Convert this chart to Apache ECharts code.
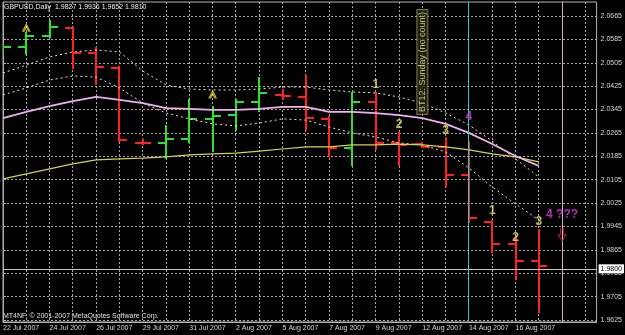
<!DOCTYPE html>
<html>
<head>
<meta charset="utf-8">
<title>GBPUSD Daily</title>
<script src="https://cdn.jsdelivr.net/npm/echarts@6.0.0/dist/echarts.min.js"></script>
<style>
  html, body { margin: 0; padding: 0; background: #000; }
  #main { width: 625px; height: 335px; }
</style>
</head>
<body>
<div id="main"></div>
<script>
const symbolName = 'GBPUSD'
const period = 'Daily'

// one entry per daily bar (Sunday bars included)
const dates = ['22 Jul 2007', '23 Jul 2007', '24 Jul 2007', '25 Jul 2007', '26 Jul 2007', '27 Jul 2007',
  '29 Jul 2007', '30 Jul 2007', '31 Jul 2007', '1 Aug 2007', '2 Aug 2007', '3 Aug 2007',
  '5 Aug 2007', '6 Aug 2007', '7 Aug 2007', '8 Aug 2007', '9 Aug 2007', '10 Aug 2007',
  '12 Aug 2007', '13 Aug 2007', '14 Aug 2007', '15 Aug 2007', '16 Aug 2007', '17 Aug 2007']
const opens = [2.0550, 2.0559, 2.0597, 2.0624, 2.0538, 2.0487, 2.0231, 2.0231, 2.0244, 2.0313, 2.0326, 2.0371,
  2.0395, 2.0388, 2.0313, 2.0214, 2.0371, 2.0231, 2.0227, 2.0217, 2.0121, 1.9960, 1.9885, 1.9827]
const highs = [2.0566, 2.0607, 2.0651, 2.0626, 2.0559, 2.0491, 2.0241, 2.0292, 2.0378, 2.0354, 2.0378, 2.0456,
  2.0412, 2.0463, 2.0320, 2.0402, 2.0402, 2.0265, 2.0231, 2.0251, 2.0234, 1.9967, 1.9909, 1.9936]
const lows = [2.0538, 2.0532, 2.0590, 2.0487, 2.0429, 2.0234, 2.0224, 2.0179, 2.0231, 2.0200, 2.0275, 2.0337,
  2.0378, 2.0275, 2.0183, 2.0155, 2.0207, 2.0152, 2.0214, 2.0080, 1.9960, 1.9855, 1.9762, 1.9652]
const closes = [2.0559, 2.0597, 2.0627, 2.0538, 2.0491, 2.0241, 2.0229, 2.0244, 2.0313, 2.0323, 2.0371, 2.0402,
  2.0393, 2.0316, 2.0214, 2.0371, 2.0231, 2.0224, 2.0217, 2.0121, 1.9974, 1.9885, 1.9827, 1.9810]

// indicators
const maFast = [2.0316, 2.0337, 2.0357, 2.0374, 2.0388, 2.0378, 2.0367, 2.0350, 2.0347, 2.0344, 2.0344, 2.0347,
  2.0354, 2.0354, 2.0337, 2.0337, 2.0333, 2.0326, 2.0316, 2.0296, 2.0265, 2.0227, 2.0186, 2.0152]
const maSlow = [2.0108, 2.0125, 2.0142, 2.0159, 2.0173, 2.0176, 2.0179, 2.0183, 2.0190, 2.0193, 2.0196, 2.0203,
  2.0210, 2.0217, 2.0217, 2.0224, 2.0224, 2.0227, 2.0224, 2.0217, 2.0207, 2.0193, 2.0183, 2.0166]
const bandUpper = [2.0470, 2.0497, 2.0525, 2.0542, 2.0549, 2.0542, 2.0477, 2.0429, 2.0415, 2.0412, 2.0412, 2.0415,
  2.0422, 2.0422, 2.0412, 2.0405, 2.0402, 2.0388, 2.0367, 2.0333, 2.0292, 2.0237, 2.0176, 2.0114]
const bandLower = [2.0395, 2.0419, 2.0446, 2.0460, 2.0456, 2.0419, 2.0367, 2.0333, 2.0313, 2.0296, 2.0289, 2.0299,
  2.0313, 2.0309, 2.0285, 2.0265, 2.0251, 2.0231, 2.0224, 2.0200, 2.0145, 2.0080, 2.0022, 1.9967]

// price scale labels
const priceTicks = [1.9625, 1.9705, 1.9785, 1.9865, 1.9945, 2.0025, 2.0105, 2.0185, 2.0265, 2.0345,
  2.0425, 2.0505, 2.0585, 2.0665]

// objects drawn on the chart
const arrowBars = [1, 9]
const arrowPrices = [2.0627, 2.0398]
const waveBars = [16, 17, 19, 21, 22, 23]
const wavePrices = [2.0429, 2.0292, 2.0272, 1.9999, 1.9906, 1.9960]
const waveTexts = ['1', '2', '3', '1', '2', '3']
const wave4Bars = [20, 24]
const wave4Prices = [2.0320, 1.9984]
const wave4Texts = ['4', '4 ???']
const noteBar = 18
const notePrice = 2.0508
const noteText = 'BT12: Sunday (no count)'
const downArrowBar = 24
const downArrowPrice = 1.9916
const vlineBars = [20, 24]

const FONT = 'Liberation Sans'
const upColor = '#30e030'
const downColor = '#ff2222'
const gridColor = '#a8a8a8'
const vlineColors = ['#30c8c8', '#dca6cf']
const xMax = 25.48
const yMin = 1.9618
const yMax = 2.0713
const lastClose = closes[closes.length - 1]

const chart = echarts.init(document.getElementById('main'))

const ohlc = dates.map((d, i) => [i, opens[i], highs[i], lows[i], closes[i]])
const xy = arr => arr.map((v, i) => [i, v])
// one bar slot per day across the visible range, also the future ones
const slots = Array.from({ length: Math.floor(xMax) + 1 }, (_, i) => [i, yMin])
// 1px lines sit on whole pixel columns
const px = v => Math.floor(v) + 0.5

chart.setOption({
  backgroundColor: '#000',
  animation: false,
  title: {
    text: `${symbolName},${period}  ${opens[23].toFixed(4)} ${highs[23].toFixed(4)} ${lows[23].toFixed(4)} ${lastClose.toFixed(4)}`,
    left: 4,
    top: 4,
    padding: 0,
    textStyle: { color: '#f0f0f0', fontSize: 7, fontWeight: 'normal', fontFamily: FONT }
  },
  graphic: [{
    type: 'text',
    left: 3,
    top: 313,
    style: { text: 'MT4NF, © 2001-2007 MetaQuotes Software Corp.', fill: '#e0e0e0', font: `7px "${FONT}"` }
  }],
  grid: { left: 2, top: 2, right: 28, bottom: 13, show: true, borderColor: '#b4b4b4', borderWidth: 1 },
  xAxis: {
    type: 'value',
    min: 0,
    max: xMax,
    interval: 1,
    axisLine: { lineStyle: { color: '#b4b4b4' } },
    axisTick: { show: false },
    splitLine: { show: false },
    axisLabel: {
      showMaxLabel: false,
      align: 'left',
      margin: 3,
      color: '#d8d8d8',
      fontSize: 7,
      fontFamily: FONT,
      formatter: v => (Number.isInteger(v) && v % 2 === 0 && v < dates.length) ? dates[v] : ''
    }
  },
  yAxis: {
    type: 'value',
    position: 'right',
    min: yMin,
    max: yMax,
    axisLine: { show: true, lineStyle: { color: '#b4b4b4' } },
    axisTick: { show: true, length: 3, customValues: priceTicks, lineStyle: { color: '#b4b4b4' } },
    axisLabel: {
      customValues: priceTicks,
      margin: 4,
      color: '#d8d8d8',
      fontSize: 7,
      fontFamily: FONT,
      formatter: v => v.toFixed(4)
    },
    splitLine: { show: true, lineStyle: { color: gridColor, type: [2, 2], width: 1 } }
  },
  series: [
    {
      // dotted vertical grid, one per bar slot
      type: 'custom',
      name: 'gridColumns',
      data: slots,
      silent: true,
      z: 1,
      encode: { x: 0, y: 1 },
      renderItem: (params, api) => {
        const cs = params.coordSys
        const x = px(api.coord([api.value(0), yMin])[0])
        return {
          type: 'line',
          shape: { x1: x, y1: cs.y, x2: x, y2: cs.y + cs.height },
          style: { stroke: gridColor, lineWidth: 1, lineDash: [2, 2] }
        }
      }
    },
    {
      type: 'custom',
      name: symbolName,
      data: ohlc,
      clip: true,
      silent: true,
      z: 2,
      encode: { x: 0, y: [1, 2, 3, 4] },
      renderItem: (params, api) => {
        const i = api.value(0)
        const x = Math.round(api.coord([i, api.value(1)])[0])
        const yO = Math.round(api.coord([i, api.value(1)])[1])
        const yH = Math.floor(api.coord([i, api.value(2)])[1])
        const yL = Math.ceil(api.coord([i, api.value(3)])[1])
        const yC = Math.round(api.coord([i, api.value(4)])[1])
        const w = Math.round(api.size([1, 0])[0] * 0.33)
        const style = { stroke: api.value(4) > api.value(1) ? upColor : downColor, lineWidth: 2 }
        return {
          type: 'group',
          children: [
            { type: 'line', shape: { x1: x, y1: yH, x2: x, y2: yL }, style },
            { type: 'line', shape: { x1: x - w, y1: yO, x2: x, y2: yO }, style },
            { type: 'line', shape: { x1: x, y1: yC, x2: x + w, y2: yC }, style }
          ]
        }
      }
    },
    {
      type: 'line',
      name: 'upper',
      data: xy(bandUpper),
      symbol: 'none',
      silent: true,
      z: 3,
      lineStyle: { color: '#e4e4e4', width: 1, type: [2, 3] }
    },
    {
      type: 'line',
      name: 'lower',
      data: xy(bandLower),
      symbol: 'none',
      silent: true,
      z: 3,
      lineStyle: { color: '#e4e4e4', width: 1, type: [2, 3] }
    },
    {
      type: 'line',
      name: 'slow',
      data: xy(maSlow),
      symbol: 'none',
      silent: true,
      z: 4,
      lineStyle: { color: '#d2d254', width: 1.2 },
      markLine: {
        symbol: 'none',
        silent: true,
        lineStyle: { type: 'solid', color: '#c8c8c8', width: 1 },
        label: {
          position: 'end',
          distance: 2,
          formatter: p => p.value.toFixed(4),
          color: '#000',
          backgroundColor: '#fff',
          padding: [1, 2, 1, 2],
          fontSize: 7,
          fontFamily: FONT
        },
        data: [{ yAxis: lastClose }]
      }
    },
    {
      type: 'line',
      name: 'fast',
      data: xy(maFast),
      symbol: 'none',
      silent: true,
      z: 5,
      lineStyle: { color: '#f0b0f0', width: 1.8 }
    },
    {
      // vertical marker lines (cyan / pink)
      type: 'custom',
      name: 'markers',
      data: vlineBars.map(b => [b, yMin]),
      silent: true,
      z: 6,
      encode: { x: 0, y: 1 },
      renderItem: (params, api) => {
        const cs = params.coordSys
        const x = px(api.coord([api.value(0), yMin])[0])
        return {
          type: 'line',
          shape: { x1: x, y1: cs.y, x2: x, y2: cs.y + cs.height },
          style: { stroke: vlineColors[params.dataIndex], lineWidth: 1 }
        }
      }
    },
    {
      type: 'scatter',
      name: 'arrows',
      data: arrowBars.map((b, i) => [b, arrowPrices[i]]),
      symbol: 'path://M5,0 L10,10 L7,10 L5,6 L3,10 L0,10 Z',
      symbolSize: [9, 9],
      itemStyle: { color: '#e8d420' },
      silent: true,
      z: 7
    },
    {
      type: 'scatter',
      name: 'down',
      data: [[downArrowBar, downArrowPrice]],
      symbol: 'path://M3,0 L7,0 L7,6 L10,6 L5,12 L0,6 L3,6 Z',
      symbolSize: [8, 12],
      itemStyle: { color: 'rgba(0,0,0,0)', borderColor: '#e02a2a', borderWidth: 1 },
      silent: true,
      z: 7
    },
    {
      type: 'scatter',
      name: 'waves',
      data: waveBars.map((b, i) => ({ name: waveTexts[i], value: [b, wavePrices[i]] })),
      symbolSize: 1,
      itemStyle: { color: 'rgba(0,0,0,0)' },
      label: { show: true, position: 'inside', formatter: '{b}', color: '#f2ec5c', fontSize: 12, fontWeight: 'bold', fontFamily: FONT },
      silent: true,
      z: 8
    },
    {
      type: 'scatter',
      name: 'wave4',
      data: wave4Bars.map((b, i) => ({ name: wave4Texts[i], value: [b, wave4Prices[i]] })),
      symbolSize: 1,
      itemStyle: { color: 'rgba(0,0,0,0)' },
      label: { show: true, position: 'inside', formatter: '{b}', color: '#e23ce2', fontSize: 12, fontWeight: 'bold', fontFamily: FONT },
      silent: true,
      z: 8
    },
    {
      type: 'scatter',
      name: 'note',
      data: [{ name: noteText, value: [noteBar, notePrice] }],
      symbolSize: 1,
      itemStyle: { color: 'rgba(0,0,0,0)' },
      label: {
        show: true,
        position: 'inside',
        rotate: 90,
        formatter: '{b}',
        color: '#e6e69a',
        fontSize: 9,
        fontFamily: FONT,
        backgroundColor: '#24240e',
        borderColor: '#8c8c6a',
        borderWidth: 1,
        padding: [1, 2, 0, 2]
      },
      silent: true,
      z: 8
    }
  ]
})
</script>
</body>
</html>
